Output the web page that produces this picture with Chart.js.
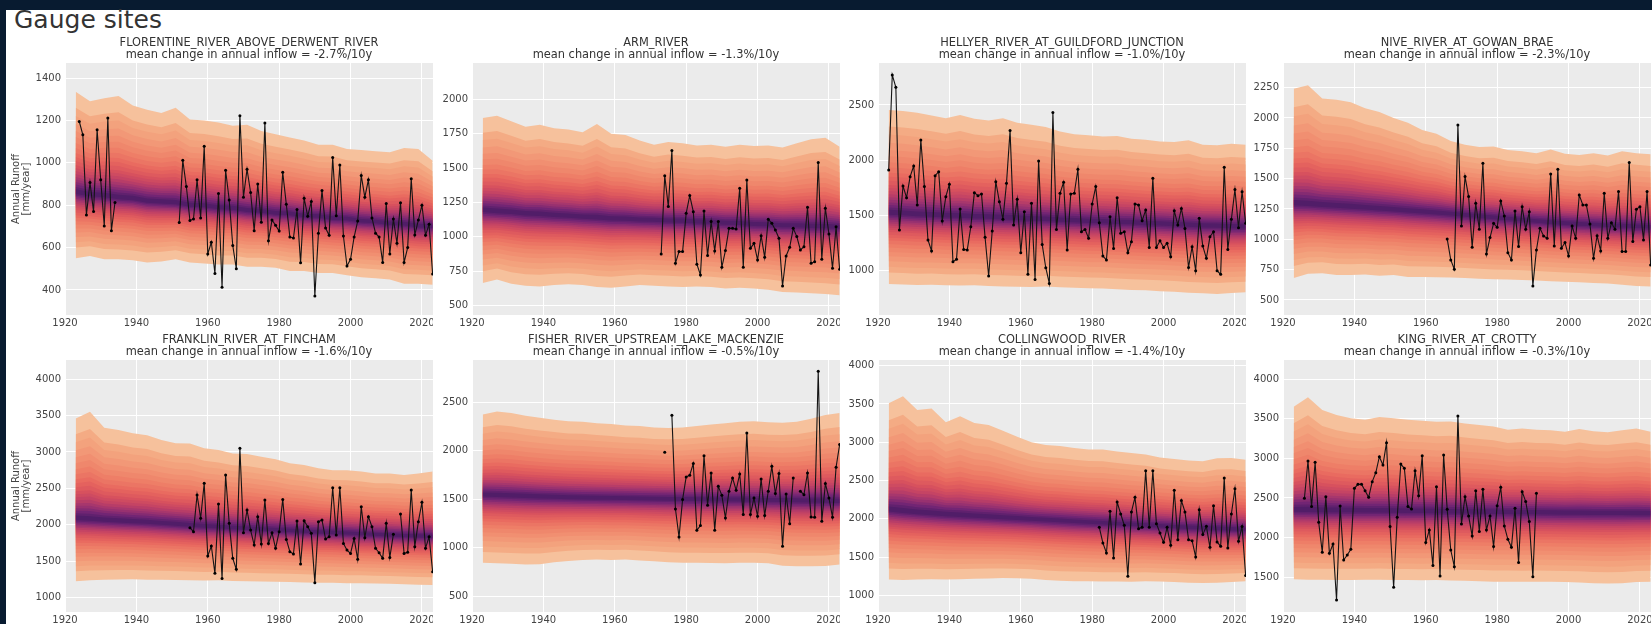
<!DOCTYPE html>
<html>
<head>
<meta charset="utf-8">
<title>Gauge sites</title>
<script src="https://cdn.jsdelivr.net/npm/chart.js@4.4.1/dist/chart.umd.min.js"></script>
<style>
  html, body { margin: 0; padding: 0; width: 1652px; height: 624px; overflow: hidden; background: #081b30; }
  #sheet { position: absolute; left: 6px; top: 10px; right: 0; bottom: 0; background: #ffffff; }
  #heading { position: absolute; left: 14px; top: 7px; font-family: "DejaVu Sans"; font-size: 25px; line-height: 25px; color: #333333; white-space: nowrap; }
  canvas { position: absolute; }
</style>
</head>
<body>
<div id="sheet"></div>
<div id="heading">Gauge sites</div>
<script>
// ---------------------------------------------------------------------------
// Shared axes
// ---------------------------------------------------------------------------
const yearTicks = [1920, 1940, 1960, 1980, 2000, 2020];
// years at which the simulated quantile envelopes are tabulated
const fanYears = [1923, 1927, 1931, 1935, 1939, 1943, 1947, 1951, 1955, 1959, 1963, 1967, 1971,
                  1975, 1979, 1983, 1987, 1991, 1995, 1999, 2003, 2007, 2011, 2015, 2019, 2023];

// ---------------------------------------------------------------------------
// Site names and fitted trend (% change per decade)
// ---------------------------------------------------------------------------
const siteNames = [
  'FLORENTINE_RIVER_ABOVE_DERWENT_RIVER', 'ARM_RIVER', 'HELLYER_RIVER_AT_GUILDFORD_JUNCTION', 'NIVE_RIVER_AT_GOWAN_BRAE',
  'FRANKLIN_RIVER_AT_FINCHAM', 'FISHER_RIVER_UPSTREAM_LAKE_MACKENZIE', 'COLLINGWOOD_RIVER', 'KING_RIVER_AT_CROTTY'
];
const inflowTrend = [-2.7, -1.3, -1.0, -2.3, -1.6, -0.5, -1.4, -0.3];

// ---------------------------------------------------------------------------
// Florentine River
// ---------------------------------------------------------------------------
const florentineRange = [282, 1471];
const florentineTicks = [400, 600, 800, 1000, 1200, 1400];
const florentineHi  = [1335, 1290, 1305, 1315, 1270, 1250, 1235, 1260, 1205, 1200, 1190, 1175, 1180, 1150, 1135, 1120, 1105, 1085, 1085, 1065, 1060, 1055, 1050, 1070, 1065, 1010];
const florentineMid = [862, 850, 846, 836, 832, 820, 816, 812, 800, 798, 788, 786, 775, 772, 762, 760, 750, 748, 738, 736, 726, 722, 714, 712, 702, 700];
const florentineLo  = [550, 560, 545, 545, 540, 530, 535, 545, 530, 525, 520, 520, 510, 510, 505, 490, 490, 480, 480, 470, 460, 455, 450, 430, 430, 425];
const florentineStart = 1924;
const florentineObs = [
  1195, 1132, 754, 907, 770, 1156, 920, 702, 1211, 680, 813,
  null, null, null, null, null, null, null, null, null, null, null, null, null, null, null, null, null,
  718, 1012, 888, 728, 735, 920, 740, 1078, 570, 625,
  478, 855, 413, 965, 825, 610, 500, 1222, 838, 970,
  860, 680, 900, 720, 1188, 632, 730, 705, 678, 955,
  805, 650, 645, 780, 528, 833, 748, 818, 372, 668,
  870, 692, 658, 1025, 750, 990, 655, 513, 545, 650,
  725, 940, 838, 920, 740, 668, 650, 530, 808, 570,
  735, 620, 812, 530, 600, 925, 660, 730, 800, 658,
  710, 475
];

// ---------------------------------------------------------------------------
// Arm River
// ---------------------------------------------------------------------------
const armRange = [432, 2264];
const armTicks = [500, 750, 1000, 1250, 1500, 1750, 2000];
const armHi  = [1865, 1880, 1840, 1800, 1815, 1790, 1780, 1760, 1820, 1750, 1740, 1700, 1670, 1690, 1680, 1665, 1670, 1655, 1670, 1660, 1665, 1650, 1680, 1710, 1720, 1655];
const armMid = [1195, 1186, 1181, 1170, 1166, 1158, 1153, 1145, 1141, 1133, 1131, 1125, 1123, 1118, 1117, 1110, 1109, 1101, 1099, 1092, 1091, 1084, 1083, 1078, 1077, 1072];
const armLo  = [665, 690, 660, 645, 640, 650, 655, 650, 635, 630, 640, 650, 645, 640, 635, 640, 635, 625, 630, 625, 615, 600, 595, 590, 585, 575];
const armStart = 1973;
const armObs = [
  876, 1445, 1220, 1627, 808, 893, 893, 1171, 1300, 1183,
  801, 723, 1188, 864, 1111, 898, 1111, 779, 900, 1062,
  1062, 1057, 1353, 779, 1414, 917, 953, 832, 1009, 851,
  1128, 1099, 1050, 990, 643, 861, 924, 1062, 1002, 905,
  929, 1215, 808, 820, 1540, 837, 1208, 1021, 772, 1074,
  764
];

// ---------------------------------------------------------------------------
// Hellyer River
// ---------------------------------------------------------------------------
const hellyerRange = [599, 2880];
const hellyerTicks = [1000, 1500, 2000, 2500];
const hellyerHi  = [2455, 2445, 2430, 2405, 2380, 2410, 2375, 2360, 2380, 2340, 2320, 2300, 2260, 2235, 2225, 2215, 2220, 2195, 2185, 2170, 2165, 2180, 2140, 2135, 2150, 2140];
const hellyerMid = [1525, 1519, 1511, 1507, 1499, 1497, 1489, 1487, 1481, 1477, 1469, 1467, 1459, 1456, 1449, 1447, 1439, 1437, 1429, 1426, 1419, 1416, 1409, 1407, 1401, 1398];
const hellyerLo  = [880, 875, 870, 872, 868, 865, 868, 862, 858, 855, 852, 856, 850, 845, 840, 838, 832, 825, 822, 815, 810, 800, 795, 790, 798, 805];
const hellyerStart = 1923;
const hellyerObs = [
  1911, 2772, 2660, 1368, 1767, 1661, 1851, 1948, 1595, 2183,
  1761, 1278, 1178, 1860, 1896, 1450, 1670, 1782, 1082, 1103,
  1558, 1193, 1187, 1398, 1706, 1679, 1694, 1302, 952, 1359,
  1806, 1625, 1465, 1791, 2268, 1413, 1646, 1163, 1534, 967,
  1610, 921, 1993, 1238, 1027, 885, 2431, 1374, 1700, 1800,
  1187, 1694, 1700, 1918, 1353, 1374, 1293, 1604, 1761, 1435,
  1133, 1097, 1489, 1202, 1661, 1338, 1353, 1163, 1263, 1604,
  1595, 1453, 1549, 1211, 1836, 1211, 1272, 1211, 1248, 1127,
  1543, 1413, 1564, 1383, 1030, 1217, 1000, 1474, 1223, 1112,
  1308, 1353, 1000, 967, 1936, 1193, 1465, 1736, 1389, 1715,
  1429
];

// ---------------------------------------------------------------------------
// Nive River
// ---------------------------------------------------------------------------
const niveRange = [376, 2453];
const niveTicks = [500, 750, 1000, 1250, 1500, 1750, 2000, 2250];
const niveHi  = [2240, 2270, 2160, 2150, 2130, 2080, 2050, 2000, 1960, 1900, 1870, 1810, 1780, 1760, 1765, 1735, 1725, 1710, 1740, 1705, 1695, 1710, 1690, 1725, 1710, 1700];
const niveMid = [1298, 1290, 1282, 1275, 1268, 1260, 1252, 1245, 1236, 1228, 1220, 1210, 1200, 1190, 1180, 1170, 1160, 1150, 1140, 1132, 1126, 1120, 1115, 1110, 1106, 1102];
const niveLo  = [680, 715, 720, 705, 705, 710, 700, 705, 690, 690, 688, 685, 680, 675, 670, 668, 665, 660, 655, 650, 645, 640, 635, 625, 615, 610];
const niveStart = 1966;
const niveObs = [
  1003, 830, 753, 1942, 1110, 1517, 1352, 934, 1297, 1083,
  1626, 879, 1014, 1132, 1099, 1316, 1192, 890, 830, 1234,
  940, 1269, 1083, 1228, 616, 912, 1091, 1028, 1008, 1539,
  945, 1577, 926, 973, 863, 1110, 1008, 1365, 1283, 1283,
  1126, 844, 1030, 904, 1379, 1008, 1137, 1083, 1393, 899,
  899, 1632, 981, 1247, 1269, 995, 1393, 789
];

// ---------------------------------------------------------------------------
// Franklin River
// ---------------------------------------------------------------------------
const franklinRange = [804, 4261];
const franklinTicks = [1000, 1500, 2000, 2500, 3000, 3500, 4000];
const franklinHi  = [3460, 3550, 3330, 3300, 3255, 3230, 3165, 3120, 3115, 3050, 3025, 2980, 2970, 2935, 2900, 2845, 2820, 2775, 2750, 2750, 2730, 2705, 2705, 2685, 2705, 2730];
const franklinMid = [2090, 2078, 2066, 2055, 2045, 2035, 2022, 2010, 1995, 1980, 1972, 1960, 1950, 1940, 1930, 1920, 1910, 1902, 1895, 1885, 1875, 1868, 1860, 1852, 1845, 1838];
const franklinLo  = [1225, 1240, 1245, 1250, 1252, 1248, 1245, 1243, 1240, 1235, 1240, 1230, 1225, 1222, 1220, 1215, 1210, 1205, 1205, 1200, 1200, 1195, 1190, 1185, 1178, 1175];
const franklinStart = 1955;
const franklinObs = [
  1960, 1906, 2409, 2089, 2569, 1572, 1709, 1334, 2285, 1265,
  2683, 2020, 1540, 1389, 3049, 1892, 2203, 1928, 1723, 2112,
  1736, 2340, 1745, 1892, 1677, 1906, 2349, 1800, 1631, 1599,
  2052, 1462, 2056, 1974, 1883, 1206, 2043, 2066, 1805, 1837,
  2509, 1860, 2509, 1745, 1654, 1608, 1814, 1526, 2249, 1823,
  2112, 1974, 1677, 1617, 1540, 2020, 1553, 1869, null, 2148,
  1608, 1622, 2477, 1700, 2043, 2308, 1677, 1837, 1357
];

// ---------------------------------------------------------------------------
// Fisher River
// ---------------------------------------------------------------------------
const fisherRange = [338, 2936];
const fisherTicks = [500, 1000, 1500, 2000, 2500];
const fisherHi  = [2375, 2405, 2390, 2360, 2340, 2320, 2305, 2300, 2285, 2275, 2260, 2255, 2240, 2235, 2240, 2255, 2270, 2285, 2300, 2305, 2295, 2290, 2300, 2330, 2370, 2390];
const fisherMid = [1548, 1542, 1538, 1533, 1528, 1524, 1520, 1516, 1514, 1512, 1510, 1508, 1506, 1504, 1502, 1500, 1498, 1497, 1496, 1494, 1492, 1490, 1488, 1485, 1482, 1480];
const fisherLo  = [845, 840, 835, 828, 830, 850, 865, 875, 878, 875, 880, 870, 860, 850, 845, 845, 842, 840, 845, 845, 840, 815, 810, 810, 812, 828];
const fisherStart = 1974;
const fisherObs = [
  1985, null, 2366, 1400, 1112, 1497, 1730, 1748, 1868, 1181,
  1229, 1950, 1438, 1772, 1181, 1634, 1541, 1308, 1583, 1720,
  1593, 1761, 1342, 2184, 1342, 1514, 1325, 1710, 1332, 1583,
  1840, 1559, 1765, 1016, 1555, 1249, 1720, null, 1583, 1548,
  1772, 1318, 1315, 2820, 1273, 1662, 1514, 1315, 1830, 2064
];

// ---------------------------------------------------------------------------
// Collingwood River
// ---------------------------------------------------------------------------
const collingwoodRange = [782, 4074];
const collingwoodTicks = [1000, 1500, 2000, 2500, 3000, 3500, 4000];
const collingwoodHi  = [3510, 3600, 3420, 3440, 3260, 3340, 3250, 3225, 3150, 3070, 3000, 2965, 2950, 2925, 2905, 2905, 2880, 2860, 2840, 2800, 2780, 2760, 2750, 2790, 2795, 2770];
const collingwoodMid = [2120, 2100, 2085, 2070, 2057, 2045, 2035, 2025, 2015, 2005, 1995, 1985, 1975, 1965, 1955, 1945, 1935, 1925, 1915, 1905, 1895, 1887, 1880, 1872, 1865, 1858];
const collingwoodLo  = [1205, 1200, 1205, 1210, 1205, 1210, 1215, 1220, 1225, 1222, 1215, 1200, 1190, 1185, 1183, 1180, 1182, 1178, 1183, 1180, 1175, 1165, 1160, 1165, 1175, 1183];
const collingwoodStart = 1982;
const collingwoodObs = [
  1888, 1684, 1553, 2097, 1488, 2219, 2062, 1914, 1248, 2089,
  2280, 1871, 1888, 2628, 1888, 2628, 1936, 1814, 1692, 1888,
  1653, 2372, 1727, 2237, 2089, 1727, 1714, 1501, 2119, 1793,
  1901, 1627, 2171, 1697, 1640, 2533, 1618, 2062, 2393, 1705,
  1900, 1260
];

// ---------------------------------------------------------------------------
// King River
// ---------------------------------------------------------------------------
const kingRange = [1062, 4240];
const kingTicks = [1500, 2000, 2500, 3000, 3500, 4000];
const kingHi  = [3650, 3770, 3610, 3545, 3505, 3485, 3520, 3505, 3485, 3475, 3460, 3465, 3440, 3420, 3400, 3360, 3375, 3360, 3355, 3335, 3370, 3340, 3330, 3355, 3375, 3335];
const kingMid = [2350, 2348, 2346, 2345, 2343, 2342, 2340, 2338, 2336, 2334, 2332, 2330, 2328, 2326, 2324, 2322, 2320, 2318, 2316, 2314, 2312, 2311, 2310, 2309, 2308, 2307];
const kingLo  = [1475, 1470, 1468, 1466, 1466, 1468, 1470, 1466, 1464, 1462, 1466, 1458, 1455, 1450, 1445, 1445, 1442, 1445, 1442, 1440, 1435, 1425, 1420, 1425, 1440, 1445];
const kingStart = 1926;
const kingObs = [
  2496, 2966, 2391, 2950, 2193, 1815, 2517, 1802, 1920, 1214,
  2399, 1718, 1781, 1853, 2622, 2672, 2672, 2592, 2508, 2706,
  2819, 3021, 2916, 3197, 2139, 1374, 2256, 2928, 2874, 2391,
  2361, 2844, 2529, 3034, 1937, 2097, 1647, 2643, 1517, 3042,
  2357, 1844, 1634, 3534, 2172, 2517, 2273, 2021, 2592, 2076,
  2609, 2097, 2273, 1887, 2403, 2634, 2147, 1979, 1878, 2370,
  1685, 2580, 2454, 2202, 1508, 2559
];

// ---------------------------------------------------------------------------
// Fan styling: nested quantile bands, outermost first. Each band spans the
// given fraction of the distance from the median to the outer envelope; its
// colour is taken from a magma-like ramp keyed on that same fraction.
// ---------------------------------------------------------------------------
const BAND_FRACTIONS = [1.00, 0.84, 0.76, 0.68, 0.61, 0.55, 0.49, 0.44, 0.39, 0.35, 0.31,
                        0.27, 0.24, 0.21, 0.18, 0.15, 0.125, 0.10, 0.075, 0.05, 0.028];
const RAMP_STOPS = [
  [1.00, '#f6c19c'], [0.84, '#f4ab84'], [0.65, '#f29574'], [0.50, '#ee8068'],
  [0.38, '#e8695f'], [0.28, '#da535d'], [0.20, '#c24265'], [0.13, '#9c3270'],
  [0.07, '#6e2474'], [0.00, '#3e1860']
];

function hexToRgb(h) {
  return [parseInt(h.slice(1, 3), 16), parseInt(h.slice(3, 5), 16), parseInt(h.slice(5, 7), 16)];
}
function rampColour(f) {
  for (let i = 0; i < RAMP_STOPS.length - 1; i++) {
    const [f0, c0] = RAMP_STOPS[i], [f1, c1] = RAMP_STOPS[i + 1];
    if (f <= f0 && f >= f1) {
      const t = (f0 - f) / (f0 - f1);
      const a = hexToRgb(c0), b = hexToRgb(c1);
      const m = a.map((v, j) => Math.round(v + (b[j] - v) * t));
      return `rgb(${m[0]},${m[1]},${m[2]})`;
    }
  }
  return RAMP_STOPS[RAMP_STOPS.length - 1][1];
}

// layout of the 4 x 2 grid (page pixels)
const PLOT_LEFT = [65, 472, 878, 1283];
const PLOT_TOP = [63, 360];
const PLOT_W = 368, PLOT_H = 252, TITLE_H = 26, XAXIS_H = 16;
const TEXT_COLOUR = '#333333';
const TICK_COLOUR = '#444444';

Chart.defaults.font.family = 'DejaVu Sans';

const panels = [
  { range: florentineRange, ticks: florentineTicks, hi: florentineHi, mid: florentineMid, lo: florentineLo, start: florentineStart, obs: florentineObs },
  { range: armRange, ticks: armTicks, hi: armHi, mid: armMid, lo: armLo, start: armStart, obs: armObs },
  { range: hellyerRange, ticks: hellyerTicks, hi: hellyerHi, mid: hellyerMid, lo: hellyerLo, start: hellyerStart, obs: hellyerObs },
  { range: niveRange, ticks: niveTicks, hi: niveHi, mid: niveMid, lo: niveLo, start: niveStart, obs: niveObs },
  { range: franklinRange, ticks: franklinTicks, hi: franklinHi, mid: franklinMid, lo: franklinLo, start: franklinStart, obs: franklinObs },
  { range: fisherRange, ticks: fisherTicks, hi: fisherHi, mid: fisherMid, lo: fisherLo, start: fisherStart, obs: fisherObs },
  { range: collingwoodRange, ticks: collingwoodTicks, hi: collingwoodHi, mid: collingwoodMid, lo: collingwoodLo, start: collingwoodStart, obs: collingwoodObs },
  { range: kingRange, ticks: kingTicks, hi: kingHi, mid: kingMid, lo: kingLo, start: kingStart, obs: kingObs }
];

// grey panel background behind the grid
const plotBackground = {
  id: 'plotBackground',
  beforeDraw(chart) {
    const { ctx, chartArea: a } = chart;
    ctx.save();
    ctx.fillStyle = '#ebebeb';
    ctx.fillRect(a.left, a.top, a.right - a.left, a.bottom - a.top);
    ctx.restore();
  }
};

function drawPanel(p, idx) {
  const col = idx % 4, row = Math.floor(idx / 4);
  const yw = col === 0 ? 59 : 40;
  const w = yw + PLOT_W, h = TITLE_H + PLOT_H + XAXIS_H;
  const canvas = document.createElement('canvas');
  canvas.width = w; canvas.height = h;
  canvas.style.width = w + 'px'; canvas.style.height = h + 'px';
  canvas.style.left = (PLOT_LEFT[col] - yw) + 'px';
  canvas.style.top = (PLOT_TOP[row] - TITLE_H) + 'px';
  document.body.appendChild(canvas);

  const datasets = [];
  BAND_FRACTIONS.forEach((f, k) => {
    const upperIndex = datasets.length;
    datasets.push({
      data: fanYears.map((x, i) => ({ x, y: p.mid[i] + f * (p.hi[i] - p.mid[i]) })),
      fill: { target: upperIndex + 1 },
      backgroundColor: rampColour(f),
      borderWidth: 0, pointRadius: 0, tension: 0, order: 100 - k
    });
    datasets.push({
      data: fanYears.map((x, i) => ({ x, y: p.mid[i] - f * (p.mid[i] - p.lo[i]) })),
      fill: false, borderWidth: 0, pointRadius: 0, tension: 0, order: 100 - k
    });
  });
  datasets.push({
    data: p.obs.map((v, i) => ({ x: p.start + i, y: v })),
    borderColor: '#141414', borderWidth: 1.1,
    pointRadius: 1.5, pointBackgroundColor: '#000000', pointBorderWidth: 0,
    spanGaps: false, fill: false, tension: 0, order: 0
  });

  const gridStyle = { color: '#ffffff', lineWidth: 1, drawTicks: false };
  new Chart(canvas, {
    type: 'line',
    data: { datasets },
    plugins: [plotBackground],
    options: {
      responsive: false, animation: false, devicePixelRatio: 1,
      layout: { padding: 0, autoPadding: false },
      plugins: {
        legend: { display: false },
        tooltip: { enabled: false },
        title: {
          display: true, fullSize: false,
          text: [siteNames[idx], 'mean change in annual inflow = ' + inflowTrend[idx].toFixed(1) + '%/10y'],
          color: TEXT_COLOUR,
          font: { size: 11.4, weight: 'normal', lineHeight: '12px' },
          padding: { top: 0, bottom: 2 }
        }
      },
      scales: {
        x: {
          type: 'linear', min: 1920, max: 2023.1,
          grid: gridStyle, border: { display: false },
          ticks: { color: TICK_COLOUR, font: { size: 10 }, padding: 2, autoSkip: false, maxRotation: 0,
                   callback: v => String(v) },
          afterBuildTicks: s => { s.ticks = yearTicks.map(v => ({ value: v })); },
          afterFit: s => { s.height = XAXIS_H; s.paddingLeft = 0; s.paddingRight = 0; }
        },
        y: {
          type: 'linear', min: p.range[0], max: p.range[1],
          grid: gridStyle, border: { display: false },
          ticks: { color: TICK_COLOUR, font: { size: 10 }, padding: 4, autoSkip: false,
                   callback: v => String(v) },
          afterBuildTicks: s => { s.ticks = p.ticks.map(v => ({ value: v })); },
          afterFit: s => { s.width = yw; s.paddingTop = 0; s.paddingBottom = 0; },
          title: col === 0
            ? { display: true, text: ['Annual Runoff', '[mm/year]'], color: TICK_COLOUR,
                font: { size: 10, lineHeight: '10px' }, padding: { top: 5.5, bottom: 0 } }
            : { display: false }
        }
      }
    }
  });
}

panels.forEach(drawPanel);
</script>
</body>
</html>
